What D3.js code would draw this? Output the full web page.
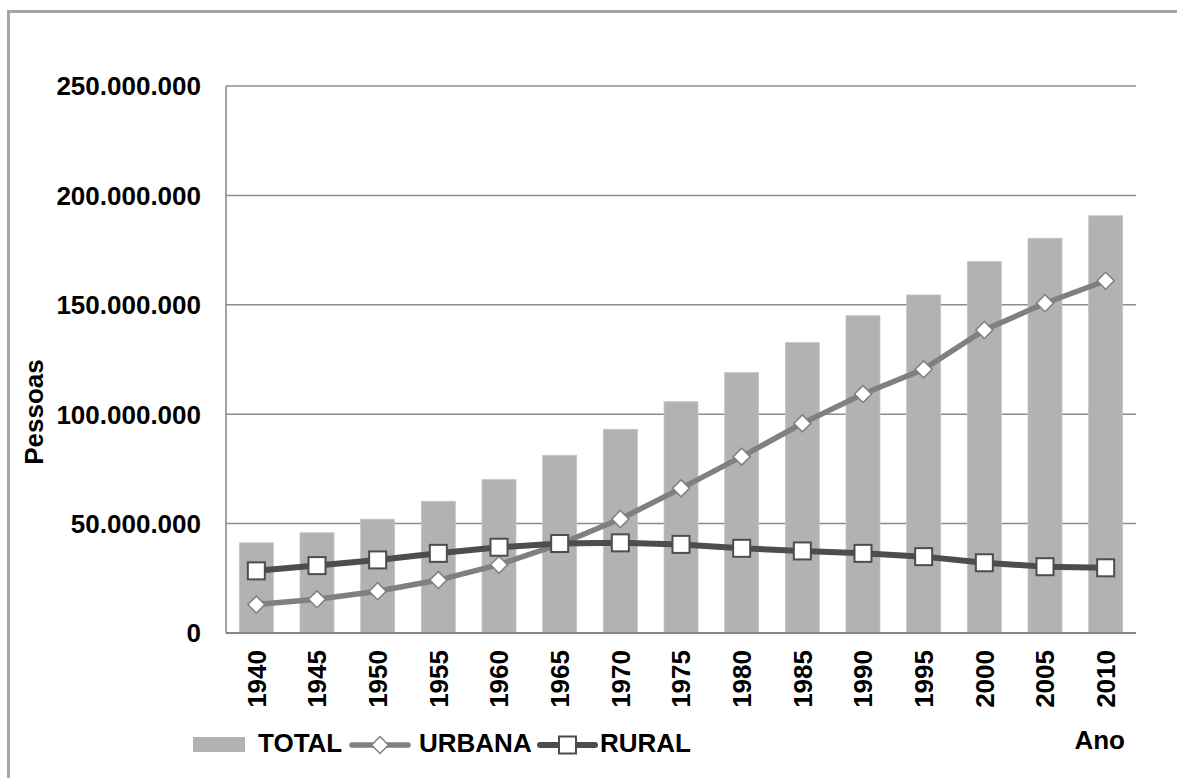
<!DOCTYPE html>
<html>
<head>
<meta charset="utf-8">
<script src="https://cdn.jsdelivr.net/npm/d3@7"></script>
<style>
  body { margin: 0; background: #fff; }
  svg text { font-family: "Liberation Sans", Arial, sans-serif; font-weight: bold; fill: #000; }
</style>
</head>
<body>
<svg id="chart" width="1177" height="778"></svg>
<script>
// anos do censo / estimativas
const anos = ["1940","1945","1950","1955","1960","1965","1970","1975","1980","1985","1990","1995","2000","2005","2010"];
const total  = [41200000, 45800000, 52000000, 60200000, 70100000, 81200000, 93100000, 105700000, 119000000, 132700000, 145000000, 154500000, 169800000, 180400000, 190700000];
const urbana = [13000000, 15400000, 19100000, 24200000, 31200000, 40600000, 52100000, 66100000, 80600000, 95800000, 109200000, 120500000, 138500000, 150700000, 161000000];
const rural  = [28400000, 30800000, 33400000, 36400000, 39200000, 40900000, 41200000, 40500000, 38700000, 37500000, 36400000, 34900000, 32100000, 30300000, 29800000];
const yTicks = [0, 50000000, 100000000, 150000000, 200000000, 250000000];

const svg = d3.select("#chart");

const pLeft = 226, pRight = 1136, pTop = 86, pBottom = 633;

const x = d3.scaleBand()
    .domain(anos)
    .range([pLeft, pRight])
    .paddingInner(0.44)
    .paddingOuter(0.22);

const y = d3.scaleLinear()
    .domain([0, 250000000])
    .range([pBottom, pTop]);

const br = d3.formatLocale({decimal: ",", thousands: ".", grouping: [3], currency: ["", ""]});
const fmt = br.format(",d");

// moldura externa
svg.append("rect")
    .attr("x", 8.5).attr("y", 11.5)
    .attr("width", 1300).attr("height", 900)
    .attr("fill", "none")
    .attr("stroke", "#a6a6a6")
    .attr("stroke-width", 3);

// grade
svg.append("g")
    .selectAll("line")
    .data(yTicks.slice(1))
    .enter()
    .append("line")
    .attr("x1", pLeft).attr("x2", pRight)
    .attr("y1", d => y(d)).attr("y2", d => y(d))
    .attr("stroke", "#8c8c8c")
    .attr("stroke-width", 1.5);

// barras TOTAL
svg.append("g")
    .selectAll("rect")
    .data(total)
    .enter()
    .append("rect")
    .attr("x", (d, i) => x(anos[i]))
    .attr("y", d => y(d))
    .attr("width", x.bandwidth())
    .attr("height", d => pBottom - y(d))
    .attr("fill", "#b2b2b2")
    .attr("stroke", "#c4c4c4")
    .attr("stroke-width", 0.8);

// eixos
svg.append("line")
    .attr("x1", pLeft).attr("x2", pLeft)
    .attr("y1", pTop).attr("y2", pBottom)
    .attr("stroke", "#868686").attr("stroke-width", 1.5);
svg.append("line")
    .attr("x1", pLeft).attr("x2", pRight)
    .attr("y1", pBottom).attr("y2", pBottom)
    .attr("stroke", "#868686").attr("stroke-width", 2);

// rótulos eixo y
svg.append("g")
    .selectAll("text")
    .data(yTicks)
    .enter()
    .append("text")
    .attr("x", pLeft - 25)
    .attr("y", d => y(d))
    .attr("dy", "0.36em")
    .attr("text-anchor", "end")
    .style("font-size", "26px")
    .text(d => fmt(d));

// rótulos eixo x
svg.append("g")
    .selectAll("text")
    .data(anos)
    .enter()
    .append("text")
    .attr("transform", d => "translate(" + (x(d) + x.bandwidth() / 2) + "," + (pBottom + 17) + ") rotate(-90)")
    .attr("dy", "0.36em")
    .attr("text-anchor", "end")
    .style("font-size", "26px")
    .text(d => d);

// títulos
svg.append("text")
    .attr("transform", "translate(34,412) rotate(-90)")
    .attr("dy", "0.36em")
    .attr("text-anchor", "middle")
    .style("font-size", "26px")
    .text("Pessoas");

svg.append("text")
    .attr("x", 1125).attr("y", 749)
    .attr("text-anchor", "end")
    .style("font-size", "26px")
    .text("Ano");

const cx = (d, i) => x(anos[i]) + x.bandwidth() / 2;
const line = d3.line().x(cx).y(d => y(d));
const diamondPath = d3.symbol(d3.symbolSquare, 12 * 12)();

// linha URBANA
svg.append("path")
    .datum(urbana)
    .attr("d", line)
    .attr("fill", "none")
    .attr("stroke", "#808080")
    .attr("stroke-width", 5.5);

// linha RURAL
svg.append("path")
    .datum(rural)
    .attr("d", line)
    .attr("fill", "none")
    .attr("stroke", "#4d4d4d")
    .attr("stroke-width", 6);

svg.append("g")
    .selectAll("path")
    .data(urbana)
    .enter()
    .append("path")
    .attr("transform", (d, i) => "translate(" + cx(d, i) + "," + y(d) + ") rotate(45)")
    .attr("d", diamondPath)
    .attr("fill", "#fff")
    .attr("stroke", "#7f7f7f")
    .attr("stroke-width", 1.5);

svg.append("g")
    .selectAll("rect")
    .data(rural)
    .enter()
    .append("rect")
    .attr("x", (d, i) => cx(d, i) - 8.5)
    .attr("y", d => y(d) - 8.5)
    .attr("width", 17).attr("height", 17)
    .attr("fill", "#fff")
    .attr("stroke", "#4d4d4d")
    .attr("stroke-width", 2);

// legenda
const leg = svg.append("g");
leg.append("rect")
    .attr("x", 193).attr("y", 737)
    .attr("width", 52).attr("height", 15)
    .attr("fill", "#b2b2b2");
leg.append("text")
    .attr("x", 258).attr("y", 752)
    .style("font-size", "26px")
    .text("TOTAL");

leg.append("line")
    .attr("x1", 352).attr("x2", 408)
    .attr("y1", 745).attr("y2", 745)
    .attr("stroke", "#808080").attr("stroke-width", 5.5)
    .attr("stroke-linecap", "round");
leg.append("path")
    .attr("transform", "translate(380,745) rotate(45)")
    .attr("d", diamondPath)
    .attr("fill", "#fff")
    .attr("stroke", "#7f7f7f")
    .attr("stroke-width", 1.5);
leg.append("text")
    .attr("x", 419).attr("y", 752)
    .style("font-size", "26px")
    .text("URBANA");

leg.append("line")
    .attr("x1", 540).attr("x2", 595)
    .attr("y1", 745).attr("y2", 745)
    .attr("stroke", "#4d4d4d").attr("stroke-width", 6)
    .attr("stroke-linecap", "round");
leg.append("rect")
    .attr("x", 559).attr("y", 736.5)
    .attr("width", 17).attr("height", 17)
    .attr("fill", "#fff")
    .attr("stroke", "#4d4d4d")
    .attr("stroke-width", 2);
leg.append("text")
    .attr("x", 600).attr("y", 752)
    .style("font-size", "26px")
    .text("RURAL");
</script>
</body>
</html>
